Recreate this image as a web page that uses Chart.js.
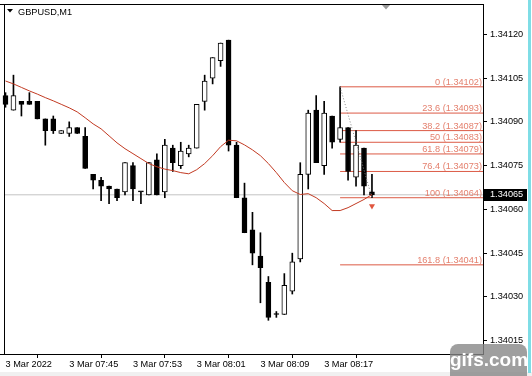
<!DOCTYPE html>
<html><head><meta charset="utf-8">
<script src="https://cdn.jsdelivr.net/npm/chart.js@4.4.1/dist/chart.umd.min.js"></script>
<style>html,body{margin:0;padding:0;background:#fff;overflow:hidden}canvas{display:block}</style>
</head><body><canvas id="c" width="532" height="376"></canvas>
<script>
// ---------- data ----------
const symbolTitle = 'GBPUSD,M1';
const times = ['07:37','07:38','07:39','07:40','07:41','07:42','07:43','07:44','07:45','07:46','07:47','07:48','07:49','07:50','07:51','07:52','07:53','07:54','07:55','07:56','07:57','07:58','07:59','08:00','08:01','08:02','08:03','08:04','08:05','08:06','08:07','08:08','08:09','08:10','08:11','08:12','08:13','08:14','08:15','08:16','08:17','08:18','08:19','08:20','08:21','08:22','08:23'];
const xTickIndex = [0, 8, 16, 24, 32, 40];
const xTickLabels = ['3 Mar 2022', '3 Mar 07:45', '3 Mar 07:53', '3 Mar 08:01', '3 Mar 08:09', '3 Mar 08:17'];
const yTicks = [1.34015, 1.34030, 1.34045, 1.34060, 1.34075, 1.34090, 1.34105, 1.34120];

const opens  = [1.34099,1.34094,1.34097,1.34097,1.34097,1.34091,1.34091,1.34086,1.34086,1.34088,1.34085,1.34072,1.34070,1.34068,1.34067,1.34066,1.34075,1.34066,1.34065,1.34077,1.34066,1.34081,1.34075,1.34079,1.34081,1.34097,1.34105,1.34111,1.34118,1.34082,1.34064,1.34053,1.34044,1.34035,1.34024,1.34024,1.34032,1.34043,1.34072,1.34094,1.34075,1.34092,1.34084,1.34088,1.34071,1.34081,1.34066];
const highs  = [1.34100,1.34106,1.34097,1.34100,1.34097,1.34091,1.34092,1.34087,1.34090,1.34088,1.34088,1.34072,1.34071,1.34068,1.34067,1.34076,1.34076,1.34066,1.34076,1.34079,1.34084,1.34082,1.34083,1.34082,1.34096,1.34106,1.34112,1.34117,1.34118,1.34083,1.34069,1.34059,1.34052,1.34037,1.34025,1.34038,1.34045,1.34076,1.34094,1.34099,1.34097,1.34092,1.34102,1.34088,1.34087,1.34081,1.34072];
const lows   = [1.34095,1.34094,1.34092,1.34096,1.34091,1.34082,1.34086,1.34086,1.34085,1.34086,1.34074,1.34067,1.34063,1.34062,1.34063,1.34065,1.34063,1.34062,1.34065,1.34065,1.34064,1.34073,1.34074,1.34078,1.34081,1.34094,1.34103,1.34109,1.34080,1.34064,1.34052,1.34041,1.34028,1.34022,1.34023,1.34024,1.34031,1.34042,1.34067,1.34076,1.34072,1.34081,1.34083,1.34070,1.34068,1.34065,1.34064];
const closes = [1.34096,1.34099,1.34096,1.34096,1.34091,1.34087,1.34087,1.34087,1.34088,1.34086,1.34074,1.34070,1.34068,1.34067,1.34064,1.34076,1.34067,1.34066,1.34076,1.34065,1.34082,1.34076,1.34080,1.34081,1.34096,1.34104,1.34112,1.34117,1.34082,1.34064,1.34052,1.34045,1.34040,1.34023,1.34024,1.34034,1.34042,1.34072,1.34093,1.34076,1.34093,1.34083,1.34088,1.34073,1.34082,1.34068,1.34065];
const maValues = [1.341040,1.341030,1.341018,1.341006,1.340995,1.340983,1.340972,1.340960,1.340948,1.340934,1.340914,1.340893,1.340876,1.340852,1.340828,1.340808,1.340791,1.340774,1.340757,1.340746,1.340738,1.340733,1.340726,1.340722,1.340736,1.340757,1.340784,1.340815,1.340837,1.340835,1.340821,1.340804,1.340784,1.340757,1.340726,1.340692,1.340664,1.340651,1.340654,1.340640,1.340620,1.340596,1.340596,1.340606,1.340620,1.340634,1.340651];

const fibRatios = ['0', '23.6', '38.2', '50', '61.8', '76.4', '100', '161.8'];
const fibPrices = [1.34102, 1.34093, 1.34087, 1.34083, 1.34079, 1.34073, 1.34064, 1.34041];
const fibFromIndex = 42;
const fibToIndex = 46;
const bidPrice = 1.34065;
const markerIndex = 46;
const markerPrice = 1.340612;
const shiftMarkerIndex = 47.8;

// ---------- fonts ----------
function hasFont(name){
  const c = document.createElement('canvas').getContext('2d');
  const s = 'GBPUSD 1.34105 Mar';
  c.font = '20px monospace'; const w0 = c.measureText(s).width;
  c.font = '20px "' + name + '", monospace'; return Math.abs(c.measureText(s).width - w0) > 0.5;
}
const NARROW = hasFont('Liberation Sans Narrow');
const FAMILY = NARROW ? '"Liberation Sans Narrow"' : '"Liberation Sans", Arial, sans-serif';
const FSIZE = NARROW ? 11 : 9.2;

// ---------- geometry ----------
const X_MIN = -0.1875, X_MAX = 59.9375;
const Y_MIN = 1.3401045, Y_MAX = 1.3413038;

const wickData = opens.map((o, i) => ({x: i, y: [lows[i], highs[i]]}));
const bodyData = opens.map((o, i) => ({x: i, y: [o, closes[i]]}));
const bodyFill = opens.map((o, i) => closes[i] > o ? '#ffffff' : '#000000');

const FIB_LINE = '#dc5a45';
const FIB_TEXT = '#e4806e';

const datasets = [];
datasets.push({type:'line', data: maValues.map((v,i)=>({x:i,y:v})), borderColor:'#c23a22', borderWidth:1, pointRadius:0, tension:0, order:1, clip:false});
datasets.push({type:'scatter', data:[{x:markerIndex, y:markerPrice}], pointStyle:'triangle', rotation:180, radius:3.5, backgroundColor:'#e0563f', borderColor:'#e0563f', borderWidth:0, order:0});
datasets.push({type:'line', data:[{x:fibFromIndex, y:fibPrices[0]}, {x:fibToIndex, y:fibPrices[6]}], borderColor:'#8a8a8a', borderWidth:1, borderDash:[1,2], pointRadius:0, order:2});
fibPrices.forEach(p => datasets.push({type:'line', data:[{x:fibFromIndex,y:p},{x:X_MAX,y:p}], borderColor:FIB_LINE, borderWidth:1, pointRadius:0, order:6}));
datasets.push({type:'bar', data: bodyData, backgroundColor: bodyFill, borderColor:'#000', borderWidth:1, borderSkipped:false, barThickness:5, minBarLength:1, grouped:false, order:3, clip:false});
datasets.push({type:'bar', data: wickData, backgroundColor:'#000', borderWidth:0, barThickness:1, grouped:false, order:4, clip:false});
datasets.push({type:'line', data:[{x:X_MIN,y:bidPrice},{x:X_MAX,y:bidPrice}], borderColor:'#c4c4c4', borderWidth:1, pointRadius:0, order:10});

const deco = {
  id: 'deco',
  beforeDraw(chart){
    const ctx = chart.ctx;
    ctx.save();
    ctx.fillStyle = '#ffffff'; ctx.fillRect(0, 0, chart.width, chart.height);
    ctx.fillStyle = '#f0f0f0'; ctx.fillRect(0, 372, chart.width, 4);
    ctx.restore();
  },
  afterDraw(chart){
    const ctx = chart.ctx, a = chart.chartArea, xs = chart.scales.x, ys = chart.scales.y;
    ctx.save();
    // frame
    ctx.strokeStyle = '#000'; ctx.lineWidth = 1;
    ctx.beginPath();
    ctx.moveTo(0, a.top + 0.5); ctx.lineTo(a.right, a.top + 0.5);
    ctx.moveTo(a.left + 0.5, a.top); ctx.lineTo(a.left + 0.5, a.bottom);
    ctx.moveTo(0, a.bottom + 0.5); ctx.lineTo(a.right, a.bottom + 0.5);
    ctx.stroke();
    // title
    ctx.fillStyle = '#000';
    ctx.beginPath(); ctx.moveTo(7, 9); ctx.lineTo(13, 9); ctx.lineTo(10, 12.5); ctx.closePath(); ctx.fill();
    ctx.font = FSIZE + 'px ' + FAMILY; ctx.textAlign = 'left'; ctx.textBaseline = 'alphabetic';
    ctx.fillText(symbolTitle, 18, 14.5);
    // shift marker
    const sx = Math.round(xs.getPixelForValue(shiftMarkerIndex));
    ctx.fillStyle = '#9a9a9a';
    ctx.beginPath(); ctx.moveTo(sx - 4, a.top + 1); ctx.lineTo(sx + 4, a.top + 1); ctx.lineTo(sx, a.top + 5.5); ctx.closePath(); ctx.fill();
    // fib labels
    ctx.fillStyle = FIB_TEXT; ctx.textAlign = 'right'; ctx.textBaseline = 'alphabetic';
    fibPrices.forEach((p, k) => {
      const y = Math.round(ys.getPixelForValue(p));
      ctx.fillText(fibRatios[k] + ' (' + p.toFixed(5) + ')', a.right - 1, y - 2);
    });
    // bid price box
    const by = ys.getPixelForValue(bidPrice);
    ctx.fillStyle = '#000'; ctx.fillRect(a.right + 1, Math.round(by) - 6, 43, 12);
    ctx.fillStyle = '#fff'; ctx.textAlign = 'left'; ctx.textBaseline = 'middle';
    ctx.fillText(bidPrice.toFixed(5), a.right + 7, by);
    // right cyan edge
    ctx.fillStyle = '#7fdde6'; ctx.fillRect(528, 0, 3, 373);
    // watermark
    ctx.fillStyle = 'rgba(135,135,135,0.8)';
    ctx.beginPath();
    if (ctx.roundRect) ctx.roundRect(450, 344, 77, 40, 8); else ctx.rect(450, 344, 77, 40);
    ctx.fill();
    ctx.fillStyle = '#fff'; ctx.font = 'bold 19px "Liberation Sans", Arial, sans-serif';
    ctx.textAlign = 'center'; ctx.textBaseline = 'alphabetic';
    ctx.fillText('gifs.com', 489, 366);
    ctx.restore();
  }
};

new Chart(document.getElementById('c'), {
  data: { datasets },
  options: {
    responsive: false, animation: false, devicePixelRatio: 1,
    layout: { padding: { left: 2, top: 2, right: 0, bottom: 0 } },
    plugins: { legend: { display: false }, tooltip: { enabled: false } },
    scales: {
      x: {
        type: 'linear', min: X_MIN, max: X_MAX, offset: false,
        afterBuildTicks: s => { s.ticks = xTickIndex.map(v => ({ value: v })); },
        afterFit: s => { s.height = 22; s.paddingLeft = 0; s.paddingRight = 0; },
        grid: { display: true, drawOnChartArea: false, drawTicks: true, tickLength: 4, color: '#000', tickWidth: 1 },
        border: { display: true, color: '#000' },
        ticks: {
          autoSkip: false, maxRotation: 0, align: 'start', padding: 1, color: '#000',
          font: { family: FAMILY, size: FSIZE },
          callback: v => { const k = xTickIndex.indexOf(v); return k >= 0 ? xTickLabels[k] : ''; }
        }
      },
      y: {
        type: 'linear', position: 'right', min: Y_MIN, max: Y_MAX,
        afterBuildTicks: s => { s.ticks = yTicks.map(v => ({ value: v })); },
        afterFit: s => { s.width = 49; s.paddingTop = 0; s.paddingBottom = 0; },
        grid: { display: true, drawOnChartArea: false, drawTicks: true, tickLength: 4, color: '#000' },
        border: { display: true, color: '#000' },
        ticks: { padding: 3, color: '#000', font: { family: FAMILY, size: FSIZE }, callback: v => Number(v).toFixed(5) }
      }
    }
  },
  plugins: [deco]
});
</script>
</body></html>
